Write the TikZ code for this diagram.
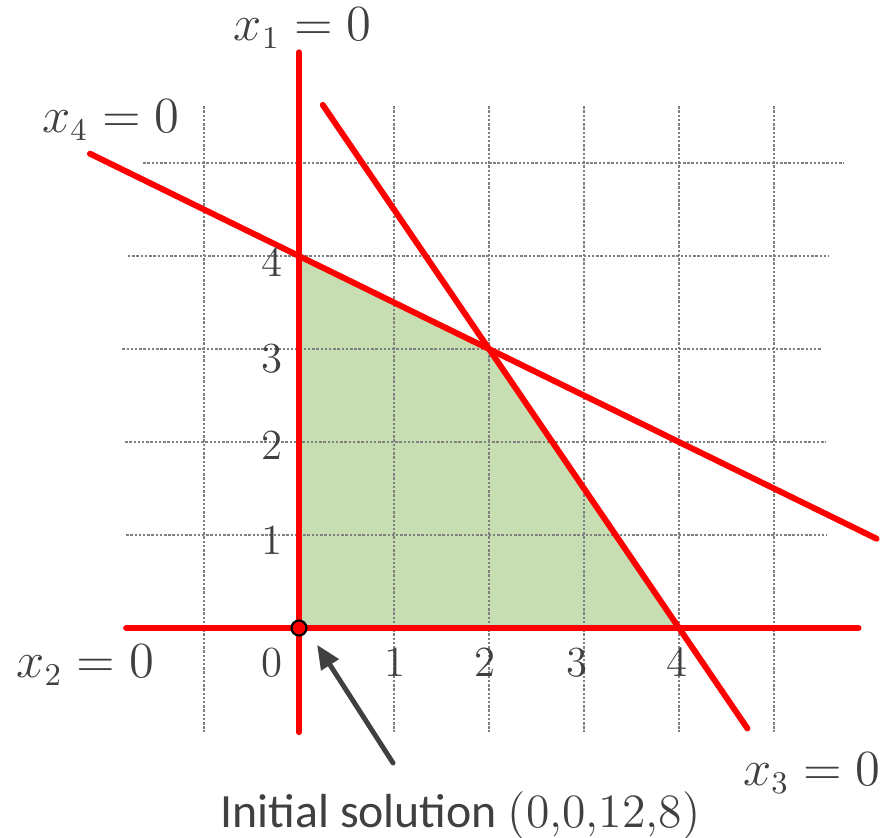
\documentclass[tikz,border=0pt]{standalone}
\usepackage{fontspec}
\newfontfamily\capfont{Carlito}
\usetikzlibrary{arrows.meta}
\definecolor{lpred}{RGB}{255,0,0}
\definecolor{lpgreen}{RGB}{198,222,177}
\definecolor{lpgray}{RGB}{64,64,64}
\definecolor{gridgray}{RGB}{128,128,128}
\tikzset{
  redline/.style={lpred, line width=1.7pt, line cap=round},
  gridline/.style={gridgray, line width=0.7pt, dash pattern=on 0.7pt off 0.5pt},
  eqlabel/.style={text=lpgray, font=\fontsize{13.4}{16}\selectfont, inner sep=0pt},
  ticklabel/.style={text=lpgray, font=\fontsize{12.2}{14}\selectfont, inner sep=0pt},
}
\begin{document}
\begin{tikzpicture}[x=0.95cm, y=0.93cm]
\useasboundingbox (-3.1474,-2.2473) rectangle (6.2526,6.7527);
% feasible region
\fill[lpgreen] (0,0) -- (0,4) -- (2,3) -- (4,0) -- cycle;
% grid
\foreach \gx in {-1,1,2,3,4,5} \draw[gridline] (\gx,5.61) -- (\gx,-1.12);
\draw[gridline] (-1.64,5) -- (5.74,5);
\draw[gridline] (-1.80,4) -- (5.58,4);
\draw[gridline] (-1.86,3) -- (5.50,3);
\draw[gridline] (-1.83,2) -- (5.55,2);
\draw[gridline] (-1.82,1) -- (5.55,1);
% constraint lines
\draw[redline] (0,6.19) -- (0,-1.12);
\draw[redline] (-1.82,0) -- (5.89,0);
\draw[redline] (-2.2,5.1) -- (6.08,0.96);
\draw[redline] (0.25,5.625) -- (4.72,-1.08);
% origin
\node[circle, draw=black, fill=lpred, line width=0.6pt, minimum size=1.5mm, inner sep=0pt] (orig) at (0,0) {};
% equation labels
\node[eqlabel] (l1) at (0.04,6.45) {$x_1 = 0$};
\node[eqlabel] (l4) at (-1.98,5.46) {$x_4 = 0$};
\node[eqlabel] (l2) at (-2.25,-0.40) {$x_2 = 0$};
\node[eqlabel] (l3) at (5.40,-1.56) {$x_3 = 0$};
% tick labels
\node[ticklabel] (t0) at (-0.28,-0.37) {0};
\node[ticklabel] (t1) at (1.01,-0.37) {1};
\node[ticklabel] (t2) at (1.96,-0.37) {2};
\node[ticklabel] (t3) at (2.93,-0.37) {3};
\node[ticklabel] (t4) at (3.98,-0.37) {4};
\node[ticklabel] (y1) at (-0.28,0.94) {1};
\node[ticklabel] (y2) at (-0.28,1.97) {2};
\node[ticklabel] (y3) at (-0.28,2.90) {3};
\node[ticklabel] (y4) at (-0.28,3.94) {4};
% caption and arrow
\node[text=lpgray, inner sep=0pt, anchor=base west] (cap) at (-0.832,-2.140)
  {{\capfont\fontsize{13.6}{16}\selectfont Initial solution }{\fontsize{13.6}{16}\selectfont (0,0,12,8)}};
\coordinate (arrs) at (0.99,-1.452);
\coordinate (arrt) at (0.19,-0.18);
\draw[lpgray, line width=1.4pt, line cap=round, -{Triangle[length=2.4mm, width=2.0mm]}] (arrs) -- (arrt);
\end{tikzpicture}
\end{document}
